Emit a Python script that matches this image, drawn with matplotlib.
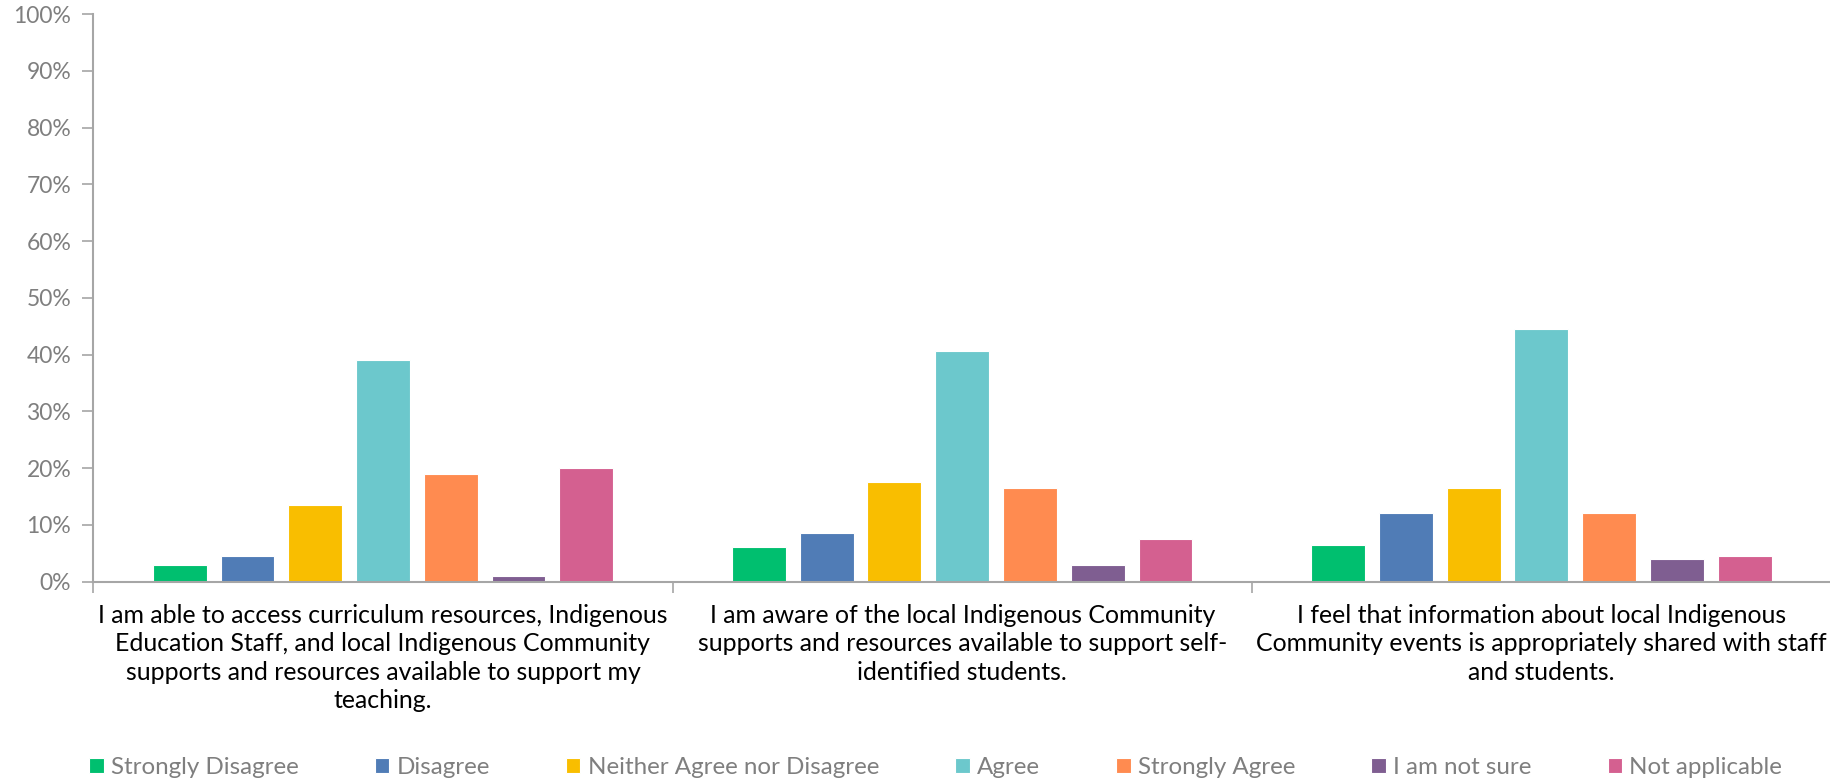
import matplotlib
matplotlib.use("Agg")
import matplotlib.pyplot as plt
import numpy as np

# Survey responses (percent of respondents)
questions = [
    "I am able to access curriculum resources, Indigenous\nEducation Staff, and local Indigenous Community\nsupports and resources available to support my\nteaching.",
    "I am aware of the local Indigenous Community\nsupports and resources available to support self-\nidentified students.",
    "I feel that information about local Indigenous\nCommunity events is appropriately shared with staff\nand students.",
]
responses = ["Strongly Disagree", "Disagree", "Neither Agree nor Disagree",
             "Agree", "Strongly Agree", "I am not sure", "Not applicable"]
strongly_disagree = [3.0, 6.0, 6.4]
disagree = [4.5, 8.5, 12.0]
neither = [13.5, 17.5, 16.5]
agree = [39.0, 40.7, 44.5]
strongly_agree = [19.0, 16.5, 12.0]
not_sure = [1.0, 3.0, 4.0]
not_applicable = [20.0, 7.5, 4.5]
series = [strongly_disagree, disagree, neither, agree,
          strongly_agree, not_sure, not_applicable]
colors = ["#00BF6F", "#507CB6", "#F9BE00", "#6CC8CC",
          "#FF8B50", "#7F5E91", "#D46090"]
y_ticks = [0, 10, 20, 30, 40, 50, 60, 70, 80, 90, 100]

FONT = "Lato"
GRAY = "#7F7F7F"
AXIS = "#A6A6A6"

fig = plt.figure(figsize=(18.31, 7.83), dpi=100)
ax = fig.add_axes([0.051, 0.2573, 0.949, 0.7247])

x = np.arange(len(questions))
pitch = 0.117
width = 0.093
for i, (vals, col, name) in enumerate(zip(series, colors, responses)):
    ax.bar(x + (i - 3) * pitch, vals, width=width, color=col,
           edgecolor="white", linewidth=0.8, label=name, zorder=2)

ax.set_xlim(-0.5, len(questions) - 0.5)
ax.set_ylim(0, 100)
ax.set_yticks(y_ticks)
ax.set_yticklabels([f"{v}%" for v in y_ticks], fontsize=16.5, color=GRAY,
                   family=FONT)
ax.tick_params(axis="y", length=8, width=1.2, color=AXIS, pad=8)

ax.set_xticks(x)
ax.set_xticklabels(questions, fontsize=17.9, family=FONT, color="black",
                   linespacing=1.285)
ax.tick_params(axis="x", which="major", length=0, pad=16)
ax.set_xticks(np.arange(-0.5, len(questions) + 0.5, 1.0), minor=True)
ax.tick_params(axis="x", which="minor", length=8, width=1.2, color=AXIS)

for s in ["top", "right"]:
    ax.spines[s].set_visible(False)
for s in ["left", "bottom"]:
    ax.spines[s].set_color(AXIS)
    ax.spines[s].set_linewidth(1.5)

leg = fig.legend(loc="center", bbox_to_anchor=(0.511, 0.02), ncol=7,
                 frameon=False, handlelength=0.6, handleheight=0.6,
                 handletextpad=0.3, columnspacing=3.15,
                 prop={"family": FONT, "size": 17.4})
for t in leg.get_texts():
    t.set_color(GRAY)

fig.savefig("out.png", dpi=100)
